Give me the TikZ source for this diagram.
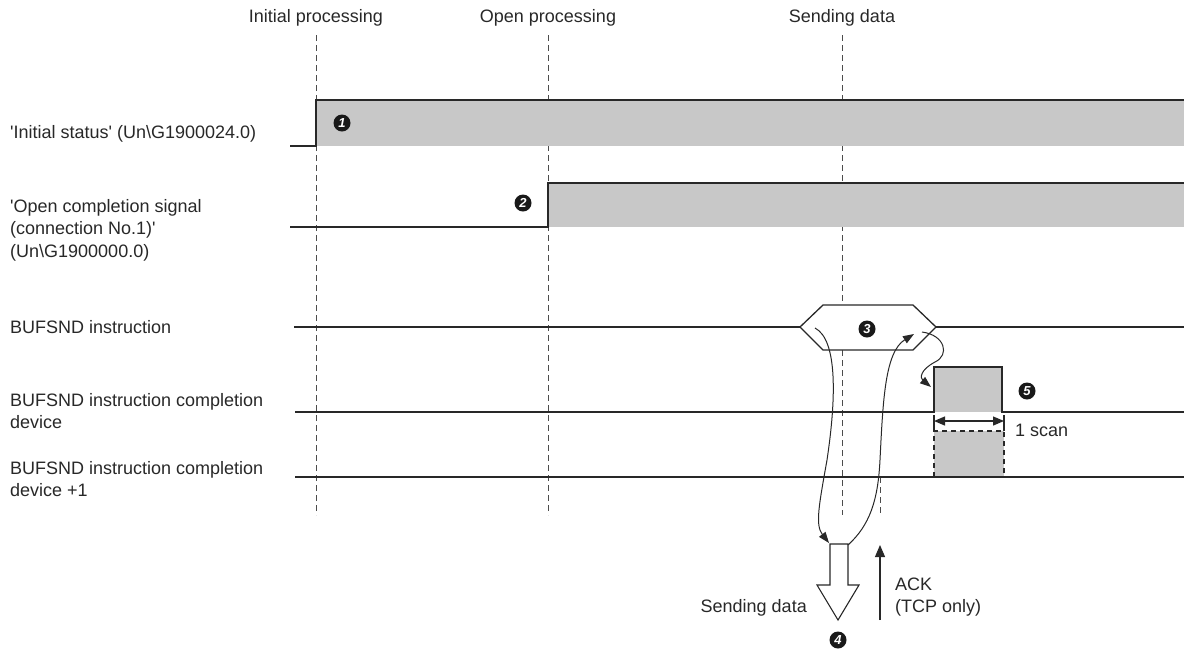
\documentclass[tikz,border=0pt]{standalone}
\usepackage{fontspec}
\setmainfont{Liberation Sans}[Ligatures=TeXOff]
\usetikzlibrary{arrows.meta}
\definecolor{sfill}{RGB}{200,200,200}
\definecolor{ink}{RGB}{40,40,40}
\begin{document}
\begin{tikzpicture}[x=1pt,y=-1pt,
  sig/.style={line width=1.3pt, draw=ink},
  guide/.style={draw=black!70, line width=1pt, dash pattern=on 6pt off 4pt},
  lbl/.style={font=\fontsize{18}{22.5}\selectfont, text=ink, inner sep=0pt},
  llbl/.style={lbl, anchor=west, align=left},
  mk/.style={circle, fill=black!90, inner sep=0pt, minimum size=17pt, text=white, font=\fontsize{13}{13}\selectfont\bfseries\itshape},
  flow/.style={line width=1pt, draw=ink, -{Triangle[length=11pt,width=8pt]}},
]
\useasboundingbox (0,0) rectangle (1184,649);

% top labels
\node[lbl] (tInit) at (316,18) {Initial processing};
\node[lbl] (tOpen) at (548,18) {Open processing};
\node[lbl] (tSend) at (842,18) {Sending data};

% guides
\draw[guide] (316,35) -- (316,515);
\draw[guide] (548,35) -- (548,515);
\draw[guide] (842,35) -- (842,305);
\draw[guide] (842,350) -- (842,515);
\draw[guide] (880,477) -- (880,515);

% left labels
\node[llbl] (l1) at (10,134) {'Initial status' (Un\textbackslash G1900024.0)};
\node[llbl] (l2) at (10,230) {'Open completion signal\\(connection No.1)'\\(Un\textbackslash G1900000.0)};
\node[llbl] (l3) at (10,327) {BUFSND instruction};
\node[llbl] (l4) at (10,411) {BUFSND instruction completion\\device};
\node[llbl] (l5) at (10,479) {BUFSND instruction completion\\device +1};

% signal 1
\fill[sfill] (316,100) rectangle (1184,146);
\draw[sig] (290,146) -- (316,146) -- (316,100) -- (1184,100);
% signal 2
\fill[sfill] (548,183) rectangle (1184,227);
\draw[sig] (290,227) -- (548,227) -- (548,183) -- (1184,183);

% BUFSND instruction
\draw[sig] (294,327) -- (800,327);
\draw[sig] (936,327) -- (1184,327);
\draw[sig, fill=white] (800,327) -- (823,305) -- (913,305) -- (936,327) -- (913,350) -- (823,350) -- cycle;

% completion device
\fill[sfill] (934,367) rectangle (1002,412);
\draw[sig] (295,412) -- (934,412) -- (934,367) -- (1002,367) -- (1002,412) -- (1184,412);

% completion device +1
\fill[sfill] (934,431) rectangle (1004,477);
\draw[line width=1.1pt, draw=ink, dash pattern=on 5pt off 4pt] (934,477) -- (934,431) -- (1004,431) -- (1004,477);
\draw[sig] (295,477) -- (1184,477);

% 1 scan
\draw[line width=1.1pt, draw=ink] (934,415) -- (934,431) (1004,415) -- (1004,431);
\coordinate (sL) at (934,421);
\coordinate (sR) at (1004,421);
\draw[line width=1.3pt, draw=ink, {Triangle[length=11pt,width=9pt]}-{Triangle[length=11pt,width=9pt]}] (sL) -- (sR);
\node[lbl, anchor=west] (scan) at (1015,430) {1 scan};

% markers
\node[mk] (m1) at (342,123) {1};
\node[mk] (m2) at (523,203) {2};
\node[mk] (m3) at (867,329) {3};
\node[mk] (m4) at (838,640) {4};
\node[mk] (m5) at (1027,391) {5};

% hollow sending arrow
\draw[line width=1.1pt, draw=ink, fill=white] (830,544) -- (848,544) -- (848,585) -- (859,585) -- (838,620) -- (817,585) -- (830,585) -- cycle;
\coordinate (boxL) at (829,543);
\coordinate (boxR) at (848,545);

% ACK arrow
\coordinate (ackB) at (880,620);
\coordinate (ackT) at (880,545);
\draw[line width=1.1pt, draw=ink, -{Triangle[length=12pt,width=10pt]}] (ackB) -- (ackT);
\node[llbl] (ack) at (895,597) {ACK\\(TCP only)};
\node[lbl, anchor=east] (sdat) at (807,608) {Sending data};

% flow curves
\coordinate (hexA) at (815,328);
\coordinate (hexB) at (914,334);
\coordinate (hexC) at (922,332);
\coordinate (devIn) at (931,387);
\draw[flow] (hexA) .. controls (838,340) and (836,400) .. (827,460) .. controls (819,505) and (815,525) .. (boxL);
\draw[flow] (boxR) .. controls (870,525) and (878,500) .. (880,460) .. controls (883,400) and (885,352) .. (hexB);
\draw[flow] (hexC) .. controls (945,335) and (950,355) .. (935,362) .. controls (920,370) and (920,378) .. (devIn);
\end{tikzpicture}
\end{document}
